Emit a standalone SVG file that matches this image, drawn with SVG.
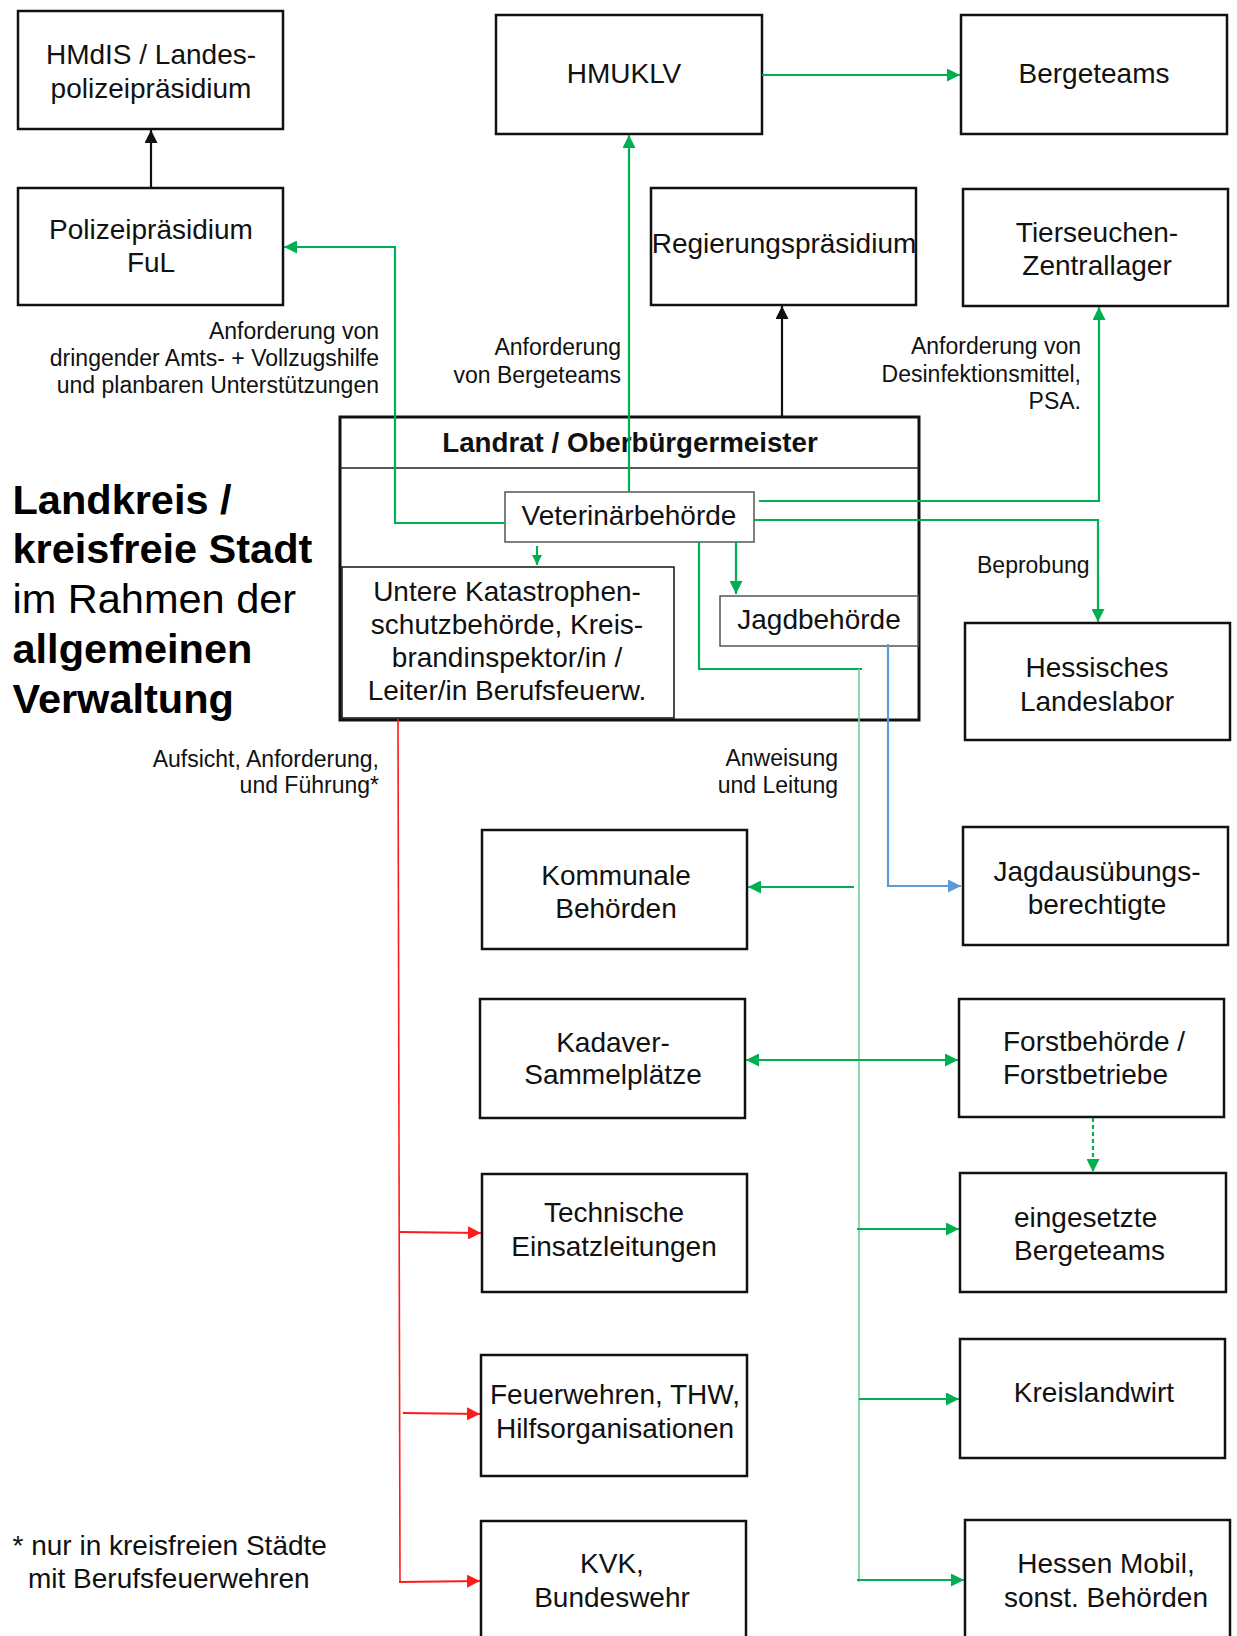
<svg xmlns="http://www.w3.org/2000/svg" width="1237" height="1636" viewBox="0 0 1237 1636">
<style>
  .box{fill:#fff;stroke:#111;stroke-width:2.5}
  .thin{fill:#fff;stroke:#555;stroke-width:1.5}
  .thinb{fill:#fff;stroke:#111;stroke-width:1.5}
  .t{font-family:"Liberation Sans",Arial,sans-serif;font-size:28px;fill:#111;text-anchor:middle}
  .ts{font-family:"Liberation Sans",Arial,sans-serif;font-size:28px;fill:#111;text-anchor:start}
  .hb{font-family:"Liberation Sans",Arial,sans-serif;font-size:27.7px;font-weight:bold;fill:#111;text-anchor:middle}
  .lab{font-family:"Liberation Sans",Arial,sans-serif;font-size:23px;fill:#111;text-anchor:end}
  .labs{font-family:"Liberation Sans",Arial,sans-serif;font-size:23px;fill:#111;text-anchor:start}
  .ti{font-family:"Liberation Sans",Arial,sans-serif;font-size:41.5px;fill:#000}
  .b{font-weight:bold}
  .g{fill:none;stroke:#00B050;stroke-width:2.2}
  .gl{fill:none;stroke:#7ED6A2;stroke-width:1.8}
  .k{fill:none;stroke:#111;stroke-width:2.2}
  .r{fill:none;stroke:#FF1A1A;stroke-width:1.6}
  .rb{fill:none;stroke:#FF1A1A;stroke-width:2.2}
  .bl{fill:none;stroke:#5B9BD5;stroke-width:2.2}
</style>
<defs>
  <marker id="ag" viewBox="0 0 12 12" refX="12" refY="6" markerWidth="13" markerHeight="13" markerUnits="userSpaceOnUse" orient="auto-start-reverse"><path d="M0,0 L12,6 L0,12 z" fill="#00B050"/></marker>
  <marker id="ags" viewBox="0 0 10 10" refX="10" refY="5" markerWidth="10" markerHeight="10" markerUnits="userSpaceOnUse" orient="auto"><path d="M0,0 L10,5 L0,10 z" fill="#00B050"/></marker>
  <marker id="ak" viewBox="0 0 12 12" refX="12" refY="6" markerWidth="13" markerHeight="13" markerUnits="userSpaceOnUse" orient="auto"><path d="M0,0 L12,6 L0,12 z" fill="#111"/></marker>
  <marker id="ar" viewBox="0 0 12 12" refX="12" refY="6" markerWidth="13" markerHeight="13" markerUnits="userSpaceOnUse" orient="auto"><path d="M0,0 L12,6 L0,12 z" fill="#FF1A1A"/></marker>
  <marker id="ab" viewBox="0 0 12 12" refX="12" refY="6" markerWidth="13" markerHeight="13" markerUnits="userSpaceOnUse" orient="auto"><path d="M0,0 L12,6 L0,12 z" fill="#5B9BD5"/></marker>
</defs>
<rect width="1237" height="1636" fill="#fff"/>

<g id="title">
  <text class="ti b" x="12.5" y="514">Landkreis /</text>
  <text class="ti b" x="12.5" y="563">kreisfreie Stadt</text>
  <text class="ti" x="12.5" y="613">im Rahmen der</text>
  <text class="ti b" x="12.5" y="663">allgemeinen</text>
  <text class="ti b" x="12.5" y="713">Verwaltung</text>
</g>

<g id="landrat">
  <rect x="340" y="417" width="579" height="303" fill="#fff" stroke="#111" stroke-width="3"/>
  <line x1="340" y1="468" x2="919" y2="468" stroke="#222" stroke-width="1.5"/>
  <text class="hb" x="630" y="452">Landrat / Oberbürgermeister</text>
</g>

<g id="hmdis"><rect class="box" x="18" y="11" width="265" height="118"/><text class="t" x="151" y="64">HMdIS / Landes-</text><text class="t" x="151" y="98">polizeipräsidium</text></g>
<g id="polizei"><rect class="box" x="18" y="188" width="265" height="117"/><text class="t" x="151" y="239">Polizeipräsidium</text><text class="t" x="151" y="272">FuL</text></g>
<g id="hmuklv"><rect class="box" x="496" y="15" width="266" height="119"/><text class="t" x="624" y="83">HMUKLV</text></g>
<g id="bergeteams"><rect class="box" x="961" y="15" width="266" height="119"/><text class="t" x="1094" y="83">Bergeteams</text></g>
<g id="regierung"><rect class="box" x="651" y="188" width="265" height="117"/><text class="t" x="784" y="253">Regierungspräsidium</text></g>
<g id="tierseuchen"><rect class="box" x="963" y="189" width="265" height="117"/><text class="t" x="1097" y="242">Tierseuchen-</text><text class="t" x="1097" y="275">Zentrallager</text></g>

<g id="veterinaer"><rect class="thin" x="505" y="492" width="249" height="50"/><text class="t" x="629" y="525">Veterinärbehörde</text></g>
<g id="untere"><rect class="thinb" x="342" y="567" width="332" height="151"/><text class="t" x="507" y="601">Untere Katastrophen-</text><text class="t" x="507" y="634">schutzbehörde, Kreis-</text><text class="t" x="507" y="667">brandinspektor/in /</text><text class="t" x="507" y="700">Leiter/in Berufsfeuerw.</text></g>
<g id="jagdbehoerde"><rect class="thin" x="720" y="596" width="198" height="50"/><text class="t" x="819" y="629">Jagdbehörde</text></g>

<g id="landeslabor"><rect class="box" x="965" y="623" width="265" height="117"/><text class="t" x="1097" y="677">Hessisches</text><text class="t" x="1097" y="711">Landeslabor</text></g>
<g id="jagdausuebung"><rect class="box" x="963" y="827" width="265" height="118"/><text class="t" x="1097" y="881">Jagdausübungs-</text><text class="t" x="1097" y="914">berechtigte</text></g>
<g id="kommunale"><rect class="box" x="482" y="830" width="265" height="119"/><text class="t" x="616" y="885">Kommunale</text><text class="t" x="616" y="918">Behörden</text></g>
<g id="kadaver"><rect class="box" x="480" y="999" width="265" height="119"/><text class="t" x="613" y="1052">Kadaver-</text><text class="t" x="613" y="1084">Sammelplätze</text></g>
<g id="forst"><rect class="box" x="959" y="999" width="265" height="118"/><text class="ts" x="1003" y="1051">Forstbehörde /</text><text class="ts" x="1003" y="1084">Forstbetriebe</text></g>
<g id="technische"><rect class="box" x="482" y="1174" width="265" height="118"/><text class="t" x="614" y="1222">Technische</text><text class="t" x="614" y="1256">Einsatzleitungen</text></g>
<g id="eingesetzte"><rect class="box" x="960" y="1173" width="266" height="119"/><text class="ts" x="1014" y="1227">eingesetzte</text><text class="ts" x="1014" y="1260">Bergeteams</text></g>
<g id="feuerwehren"><rect class="box" x="481" y="1355" width="266" height="121"/><text class="t" x="615" y="1404">Feuerwehren, THW,</text><text class="t" x="615" y="1438">Hilfsorganisationen</text></g>
<g id="kreislandwirt"><rect class="box" x="960" y="1339" width="265" height="119"/><text class="t" x="1094" y="1402">Kreislandwirt</text></g>
<g id="kvk"><rect class="box" x="481" y="1521" width="265" height="130"/><text class="t" x="612" y="1573">KVK,</text><text class="t" x="612" y="1607">Bundeswehr</text></g>
<g id="hessenmobil"><rect class="box" x="965" y="1520" width="265" height="130"/><text class="t" x="1106" y="1573">Hessen Mobil,</text><text class="t" x="1106" y="1607">sonst. Behörden</text></g>

<g id="connectors">
  <path class="k" d="M151,188 L151,130" marker-end="url(#ak)"/>
  <path class="k" d="M782,417 L782,306" marker-end="url(#ak)"/>
  <path class="g" d="M762,75 L960,75" marker-end="url(#ag)"/>
  <path class="g" d="M629,492 L629,135" marker-end="url(#ag)"/>
  <path class="g" d="M505,523 L395,523 L395,247 L284,247" marker-end="url(#ag)"/>
  <path class="g" d="M759,501 L1099,501 L1099,307" marker-end="url(#ag)"/>
  <path class="g" d="M754,520 L1098,520 L1098,622" marker-end="url(#ag)"/>
  <path class="g" d="M537,546 L537,565" marker-end="url(#ags)"/>
  <path class="g" d="M736,542 L736,594" marker-end="url(#ag)"/>
  <path class="g" d="M699,542 L699,669 L862,669"/>
  <path class="gl" d="M859,669 L859,1582"/>
  <path class="g" d="M854,887 L748,887" marker-end="url(#ag)"/>
  <path class="g" d="M746,1060 L958,1060" marker-start="url(#ag)" marker-end="url(#ag)"/>
  <path class="g" d="M857,1229 L959,1229" marker-end="url(#ag)"/>
  <path class="g" d="M859,1399 L959,1399" marker-end="url(#ag)"/>
  <path class="g" d="M857,1580 L964,1580" marker-end="url(#ag)"/>
  <path class="g" d="M1093,1118 L1093,1172" stroke-width="1.8" stroke-dasharray="4,3" marker-end="url(#ag)"/>
  <path class="r" d="M398,719 L400,1582"/>
  <path class="rb" d="M400,1232 L481,1233" marker-end="url(#ar)"/>
  <path class="rb" d="M403,1413 L480,1414" marker-end="url(#ar)"/>
  <path class="rb" d="M399,1582 L480,1581" marker-end="url(#ar)"/>
  <path class="bl" d="M888,644 L888,886 L961,886" marker-end="url(#ab)"/>
</g>

<g id="labels">
  <text class="lab" x="379" y="339">Anforderung  von</text>
  <text class="lab" x="379" y="366">dringender Amts- + Vollzugshilfe</text>
  <text class="lab" x="379" y="393">und planbaren Unterstützungen</text>
  <text class="lab" x="621" y="355">Anforderung</text>
  <text class="lab" x="621" y="383">von Bergeteams</text>
  <text class="lab" x="1081" y="354">Anforderung  von</text>
  <text class="lab" x="1081" y="382">Desinfektionsmittel,</text>
  <text class="lab" x="1081" y="409">PSA.</text>
  <text class="labs" x="977" y="573">Beprobung</text>
  <text class="lab" x="379" y="767">Aufsicht, Anforderung,</text>
  <text class="lab" x="379" y="793">und Führung*</text>
  <text class="lab" x="838" y="766">Anweisung</text>
  <text class="lab" x="838" y="793">und Leitung</text>
  <text class="ts" x="12.5" y="1555">* nur in kreisfreien Städte</text>
  <text class="ts" x="28" y="1588">mit Berufsfeuerwehren</text>
</g>
</svg>
